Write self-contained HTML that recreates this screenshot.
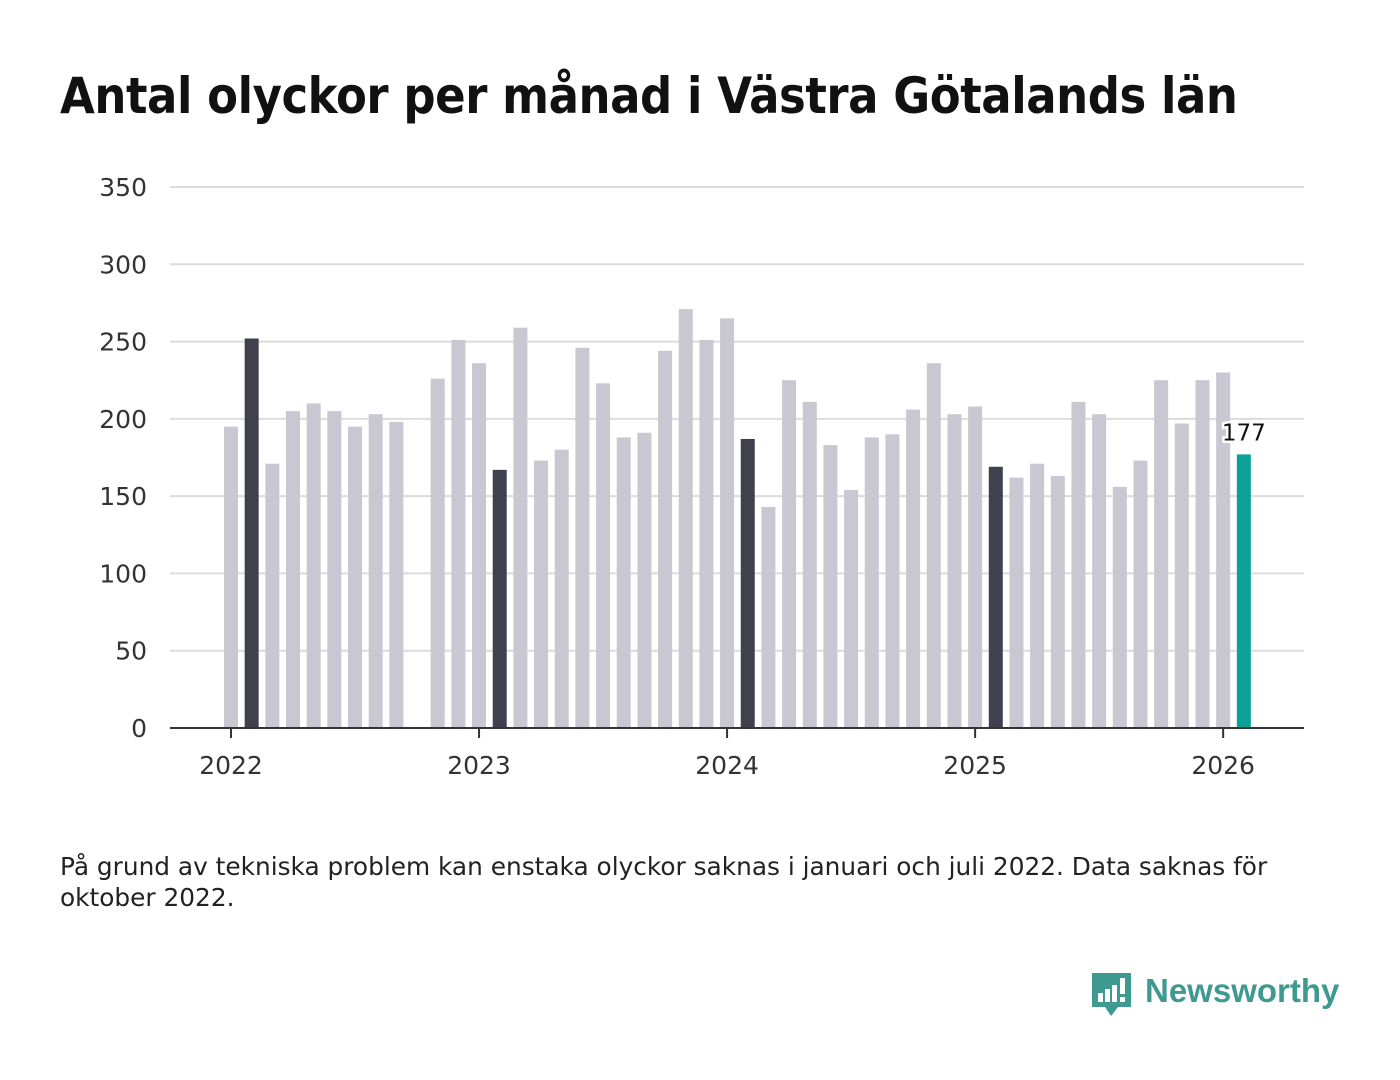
<!DOCTYPE html>
<html><head><meta charset="utf-8"><style>
body{margin:0;width:1400px;height:1080px;background:#fff;font-family:"DejaVu Sans","Liberation Sans",sans-serif;position:relative;overflow:hidden}
h1{position:absolute;left:60px;top:67px;margin:0;font-size:50px;font-weight:bold;color:#111;letter-spacing:-0.5px;transform:scaleX(0.9);transform-origin:0 0;white-space:nowrap}
.note{position:absolute;left:60px;top:851px;font-size:24.8px;line-height:31px;color:#222;width:1260px}
.logo{position:absolute;left:1088px;top:968px}
</style></head><body>
<h1>Antal olyckor per månad i Västra Götalands län</h1>
<svg id="chart" width="1400" height="820" style="position:absolute;left:0;top:0"></svg>
<div class="note">På grund av tekniska problem kan enstaka olyckor saknas i januari och juli 2022. Data saknas för oktober 2022.</div>
<div class="logo">
<svg width="260" height="56"><path d="M4 5h39v34H30l-7 9-6-9H4z" fill="#3e9a91"/><rect x="10" y="25" width="5" height="9" fill="#fff"/><rect x="17" y="21" width="5" height="13" fill="#fff"/><rect x="24" y="17" width="5" height="17" fill="#fff"/><rect x="32" y="10" width="5" height="16" fill="#fff"/><rect x="32" y="29" width="5" height="5" fill="#fff"/>
<text x="57" y="34" font-family="Liberation Sans,sans-serif" font-size="33" fill="#3e9a91" font-weight="bold">Newsworthy</text></svg></div>
<script>
const values=[195,252,171,205,210,205,195,203,198,null,226,251,236,167,259,173,180,246,223,188,191,244,271,251,265,187,143,225,211,183,154,188,190,206,236,203,208,169,162,171,163,211,203,156,173,225,197,225,230,177];
const yTicks=[0,50,100,150,200,250,300,350];
const xLabels=["2022","2023","2024","2025","2026"];
const svg=document.getElementById('chart');const NS='http://www.w3.org/2000/svg';
const y=v=>728-v*(541/350);const x=i=>231+i*20.67;
function mk(t,a){const e=document.createElementNS(NS,t);for(const k in a)e.setAttribute(k,a[k]);svg.appendChild(e);return e;}
yTicks.forEach(t=>{if(t>0){const g=mk('line',{x1:170,x2:1304,y1:y(t),y2:y(t),stroke:'#dcdcdc','stroke-width':2});}
const l=mk('text',{x:147,y:y(t)+9,'text-anchor':'end','font-size':25,fill:'#333'});l.textContent=t;
});
values.forEach((v,i)=>{if(v==null)return;const last=i==values.length-1;const col=last?'#0aa196':(i%12==1?'#40404f':'#c8c7d2');
const r=mk('rect',{x:x(i)-7,y:y(v),width:14,height:728-y(v),fill:col});

if(last){const t=mk('text',{x:x(i),y:y(v)-14,'text-anchor':'middle','font-size':23,fill:'#111',stroke:'#fff','stroke-width':5,'paint-order':'stroke'});t.textContent=v;}});
const ax=mk('line',{x1:170,x2:1304,y1:728,y2:728,stroke:'#333','stroke-width':2});
xLabels.forEach((lb,k)=>{const xi=x(k*12);mk('line',{x1:xi,x2:xi,y1:728,y2:738,stroke:'#333','stroke-width':2});
const t=mk('text',{x:xi,y:774,'text-anchor':'middle','font-size':25,fill:'#333'});t.textContent=lb;});
</script>
</body></html>
